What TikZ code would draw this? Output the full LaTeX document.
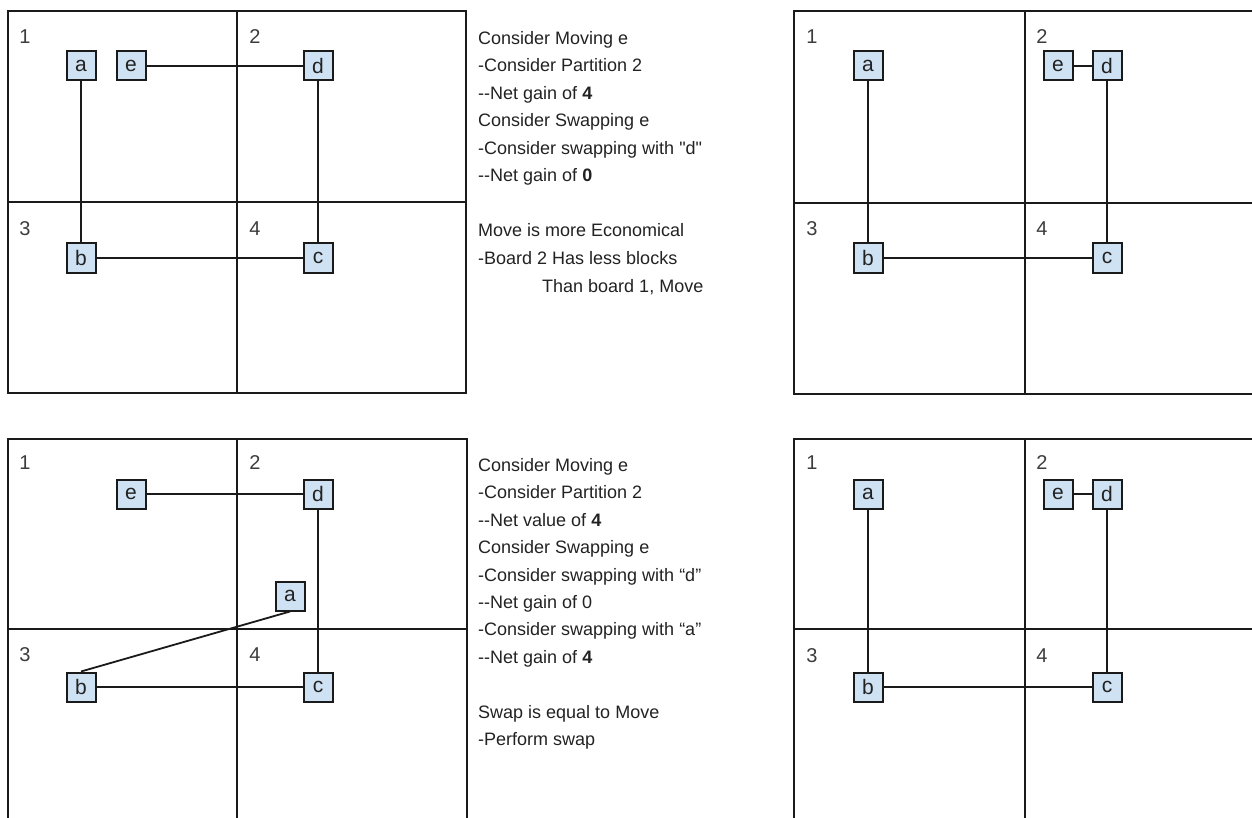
\documentclass[tikz,border=0pt]{standalone}
\usepackage{fontspec}
\setmainfont{Liberation Sans}[Ligatures=TeXOff]
\definecolor{boxfill}{HTML}{CFE2F3}
\definecolor{ink}{HTML}{1A1A1A}
\definecolor{txt}{HTML}{222222}
\definecolor{num}{HTML}{3C3C3C}
\begin{document}
\begin{tikzpicture}[x=1pt,y=-1pt,
  board/.style={draw=ink,line width=2pt},
  blk/.style={draw=ink,fill=boxfill,line width=2pt,minimum size=29pt,inner sep=0pt,
    font=\fontsize{21}{21}\selectfont,text=txt},
  wire/.style={draw=ink,line width=1.8pt},
  numlbl/.style={font=\fontsize{20}{20}\selectfont,text=num,inner sep=0pt},
  line/.style={anchor=base west,inner sep=0pt,font=\fontsize{18}{18}\selectfont,text=txt}]
\useasboundingbox (0,0) rectangle (1252,818);
\clip (0,0) rectangle (1252,818);
% ---------- Board A (top left) ----------
\draw[board] (8,11) rectangle (466,393);
\draw[board] (237,11) -- (237,393);
\draw[board] (8,202) -- (466,202);
\node[numlbl] (A1) at (25,37) {1};
\node[numlbl] (A2) at (255,37) {2};
\node[numlbl] (A3) at (25,229) {3};
\node[numlbl] (A4) at (255,229) {4};
\node[blk] (Aa) at (81,66) {a};
\node[blk] (Ae) at (131,66) {e};
\node[blk] (Ad) at (318,66) {d};
\node[blk] (Ab) at (81,258) {b};
\node[blk] (Ac) at (318,258) {c};
\draw[wire] (Aa) -- (Ab);
\draw[wire] (Ae) -- (Ad);
\draw[wire] (Ad) -- (Ac);
\draw[wire] (Ab) -- (Ac);
% ---------- Board B (top right) ----------
\draw[board] (1260,11) -- (794,11) -- (794,394) -- (1260,394);
\draw[board] (1025,11) -- (1025,394);
\draw[board] (794,203) -- (1260,203);
\node[numlbl] (B1) at (812,37) {1};
\node[numlbl] (B2) at (1042,37) {2};
\node[numlbl] (B3) at (812,229) {3};
\node[numlbl] (B4) at (1042,229) {4};
\node[blk] (Ba) at (868,66) {a};
\node[blk] (Be) at (1058,66) {e};
\node[blk] (Bd) at (1107,66) {d};
\node[blk] (Bb) at (868,258) {b};
\node[blk] (Bc) at (1107,258) {c};
\draw[wire] (Ba) -- (Bb);
\draw[wire] (Be) -- (Bd);
\draw[wire] (Bd) -- (Bc);
\draw[wire] (Bb) -- (Bc);
% ---------- Board C (bottom left) ----------
\draw[board] (8,830) -- (8,439) -- (467,439) -- (467,830);
\draw[board] (237,439) -- (237,830);
\draw[board] (8,629) -- (467,629);
\node[numlbl] (C1) at (25,463) {1};
\node[numlbl] (C2) at (255,463) {2};
\node[numlbl] (C3) at (25,655) {3};
\node[numlbl] (C4) at (255,655) {4};
\node[blk] (Ce) at (131,494) {e};
\node[blk] (Cd) at (318,494) {d};
\node[blk] (Ca) at (290,596) {a};
\node[blk] (Cb) at (81,687) {b};
\node[blk] (Cc) at (318,687) {c};
\draw[wire] (Ce) -- (Cd);
\draw[wire] (Cd) -- (Cc);
\draw[wire] (Ca.south) -- (Cb.north);
\draw[wire] (Cb) -- (Cc);
% ---------- Board D (bottom right) ----------
\draw[board] (1260,439) -- (794,439) -- (794,830);
\draw[board] (1025,439) -- (1025,830);
\draw[board] (794,629) -- (1260,629);
\node[numlbl] (D1) at (812,463) {1};
\node[numlbl] (D2) at (1042,463) {2};
\node[numlbl] (D3) at (812,656) {3};
\node[numlbl] (D4) at (1042,656) {4};
\node[blk] (Da) at (868,494) {a};
\node[blk] (De) at (1058,494) {e};
\node[blk] (Dd) at (1107,494) {d};
\node[blk] (Db) at (868,687) {b};
\node[blk] (Dc) at (1107,687) {c};
\draw[wire] (Da) -- (Db);
\draw[wire] (De) -- (Dd);
\draw[wire] (Dd) -- (Dc);
\draw[wire] (Db) -- (Dc);
% ---------- Text (top) ----------
\node[line] (t1) at (478,44.5) {Consider Moving e};
\node[line] (t2) at (478,72) {-Consider Partition 2};
\node[line] (t3) at (478,99.5) {--Net gain of \textbf{4}};
\node[line] (t4) at (478,127) {Consider Swapping e};
\node[line] (t5) at (478,154.5) {-Consider swapping with "d"};
\node[line] (t6) at (478,182) {--Net gain of \textbf{0}};
\node[line] (t7) at (478,237) {Move is more Economical};
\node[line] (t8) at (478,264.5) {-Board 2 Has less blocks};
\node[line] (t9) at (542,292) {Than board 1, Move};
% ---------- Text (bottom) ----------
\node[line] (u1) at (478,471.5) {Consider Moving e};
\node[line] (u2) at (478,498.9) {-Consider Partition 2};
\node[line] (u3) at (478,526.3) {--Net value of \textbf{4}};
\node[line] (u4) at (478,553.7) {Consider Swapping e};
\node[line] (u5) at (478,581.1) {-Consider swapping with “d”};
\node[line] (u6) at (478,608.5) {--Net gain of 0};
\node[line] (u7) at (478,635.9) {-Consider swapping with “a”};
\node[line] (u8) at (478,663.3) {--Net gain of \textbf{4}};
\node[line] (u9) at (478,718.1) {Swap is equal to Move};
\node[line] (u10) at (478,745.5) {-Perform swap};
\end{tikzpicture}
\end{document}
